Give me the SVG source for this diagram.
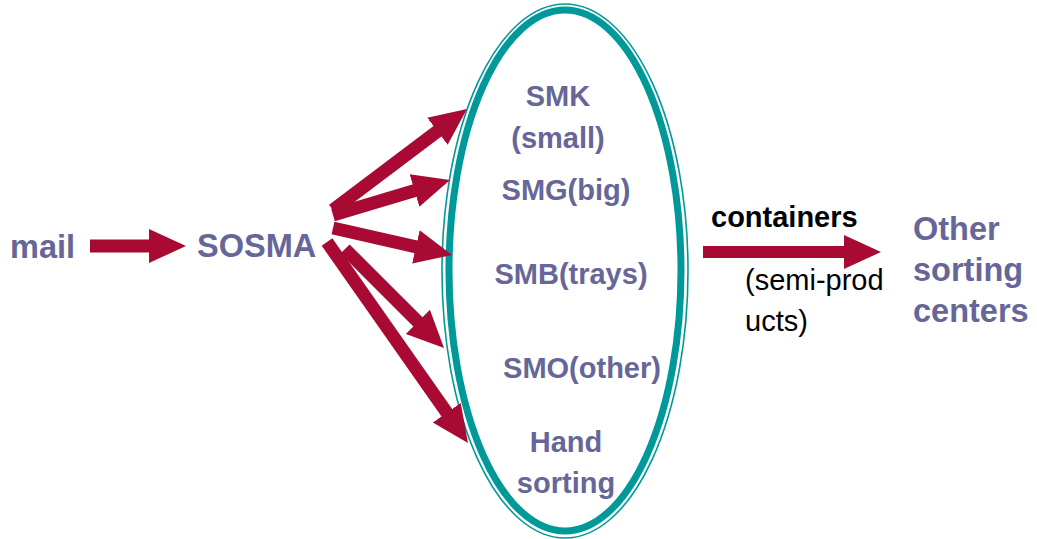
<svg xmlns="http://www.w3.org/2000/svg" width="1037" height="539" viewBox="0 0 1037 539">
<defs>
<style>
.lbl{font-family:"Liberation Sans",Arial,sans-serif;font-weight:bold;fill:#666699}
.big{font-size:32.5px}
.mid{font-size:29px}
.blk{font-family:"Liberation Sans",Arial,sans-serif;fill:#000;font-size:29px}
.arr{stroke:#a80a33;fill:none;stroke-linecap:butt}
.ring{fill:none;stroke:#009999}
</style>
<marker id="head" markerUnits="userSpaceOnUse" markerWidth="40" markerHeight="36" viewBox="0 -18 40 36" refX="17" refY="0" orient="auto">
<path d="M0,-17 L37,0 L0,17 z" fill="#a80a33"/>
</marker>
</defs>
<rect width="1037" height="539" fill="#fff"/>
<g id="ellipse">
<ellipse class="ring" cx="565" cy="271" rx="123" ry="267" stroke-width="1.6"/>
<ellipse class="ring" cx="565" cy="270.5" rx="116" ry="260.5" stroke-width="7"/>
</g>
<g id="connectors">
<line class="arr" x1="90" y1="246" x2="166" y2="246" stroke-width="13" marker-end="url(#head)"/>
<line class="arr" x1="333" y1="210" x2="451" y2="121" stroke-width="13" marker-end="url(#head)"/>
<line class="arr" x1="333" y1="215" x2="430.8" y2="185.7" stroke-width="13" marker-end="url(#head)"/>
<line class="arr" x1="333" y1="228" x2="432.5" y2="250.6" stroke-width="13" marker-end="url(#head)"/>
<line class="arr" x1="345" y1="249" x2="429.9" y2="333.9" stroke-width="13" marker-end="url(#head)"/>
<line class="arr" x1="327" y1="242" x2="456.5" y2="426.6" stroke-width="13" marker-end="url(#head)"/>
<line class="arr" x1="703" y1="252" x2="861" y2="252" stroke-width="12" marker-end="url(#head)"/>
</g>
<g id="mail"><text class="lbl big" x="10" y="258">mail</text></g>
<g id="sosma"><text class="lbl big" x="197" y="257">SOSMA</text></g>
<g id="smk"><text class="lbl mid" text-anchor="middle" x="558" y="106">SMK</text><text class="lbl mid" text-anchor="middle" x="558" y="148">(small)</text></g>
<g id="smg"><text class="lbl mid" text-anchor="middle" x="566" y="200">SMG(big)</text></g>
<g id="smb"><text class="lbl mid" text-anchor="middle" x="571" y="284">SMB(trays)</text></g>
<g id="smo"><text class="lbl mid" text-anchor="middle" x="582" y="378">SMO(other)</text></g>
<g id="hand"><text class="lbl mid" text-anchor="middle" x="566" y="452">Hand</text><text class="lbl mid" text-anchor="middle" x="566" y="493">sorting</text></g>
<g id="containers">
<text class="blk" font-weight="bold" x="711" y="227">containers</text>
<text class="blk" x="745" y="290">(semi-prod</text>
<text class="blk" x="745" y="331">ucts)</text>
</g>
<g id="other"><text class="lbl big" x="913" y="240">Other</text><text class="lbl big" x="913" y="281">sorting</text><text class="lbl big" x="913" y="322">centers</text></g>
</svg>
